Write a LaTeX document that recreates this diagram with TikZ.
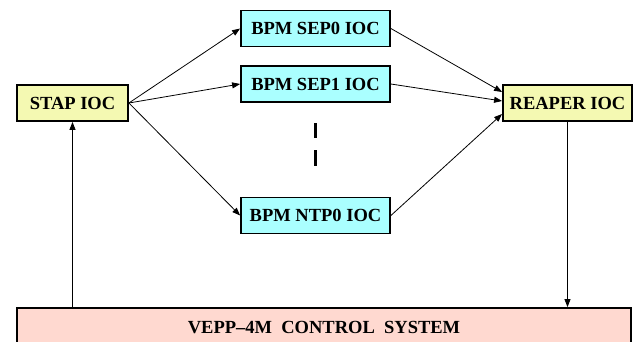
\documentclass[tikz,border=0pt]{standalone}
\usepackage{fontspec}
\setmainfont{Liberation Serif}
\usetikzlibrary{arrows.meta}
\definecolor{ioyellow}{RGB}{244,249,178}
\definecolor{iocyan}{RGB}{170,255,255}
\definecolor{iopink}{RGB}{255,217,208}
\tikzset{
  box/.style={draw=black, line width=1.8pt, inner sep=0pt, font=\fontsize{18.5}{20}\selectfont\bfseries},
  stapbox/.style={box, fill=ioyellow, minimum width=111pt, minimum height=36pt},
  bpmbox/.style={box, fill=iocyan, minimum width=149pt, minimum height=36pt},
  reaperbox/.style={box, fill=ioyellow, minimum width=129pt, minimum height=36pt},
  ctrlbox/.style={box, fill=iopink, minimum width=614pt, minimum height=40pt},
  conn/.style={line width=0.8pt, -{Triangle[length=8pt,width=6pt]}},
  vdash/.style={line width=2.4pt}
}
\begin{document}
\begin{tikzpicture}[x=1pt,y=-1pt]
\useasboundingbox (0,0) rectangle (635,341);
\clip (0,0) rectangle (635,341);
\node[stapbox] (stap) at (72.5,103) {STAP IOC};
\node[bpmbox] (sep0) at (315.5,28.5) {BPM SEP0 IOC};
\node[bpmbox] (sep1) at (315.5,84) {BPM SEP1 IOC};
\node[bpmbox] (ntp0) at (315.5,215.5) {BPM NTP0 IOC};
\node[reaperbox] (reaper) at (567.5,103) {REAPER IOC};
\node[ctrlbox] (vepp) at (324,328) {VEPP–4M\ \ CONTROL\ \ SYSTEM};
\draw[conn] (stap.east) -- (sep0.west);
\draw[conn] (stap.east) -- (sep1.west);
\draw[conn] (stap.east) -- (ntp0.west);
\draw[conn] (sep0.east) -- ([yshift=11pt]reaper.west);
\draw[conn] (sep1.east) -- ([yshift=2pt]reaper.west);
\draw[conn] (ntp0.east) -- ([yshift=-11pt]reaper.west);
\draw[conn] (vepp.north -| stap.south) -- (stap.south);
\draw[conn] (reaper.south) -- (reaper.south |- vepp.north);
\coordinate (d1a) at (315.5,123);
\coordinate (d1b) at (315.5,138);
\coordinate (d2a) at (315.5,150);
\coordinate (d2b) at (315.5,166);
\draw[vdash] (d1a) -- (d1b);
\draw[vdash] (d2a) -- (d2b);
\end{tikzpicture}
\end{document}
